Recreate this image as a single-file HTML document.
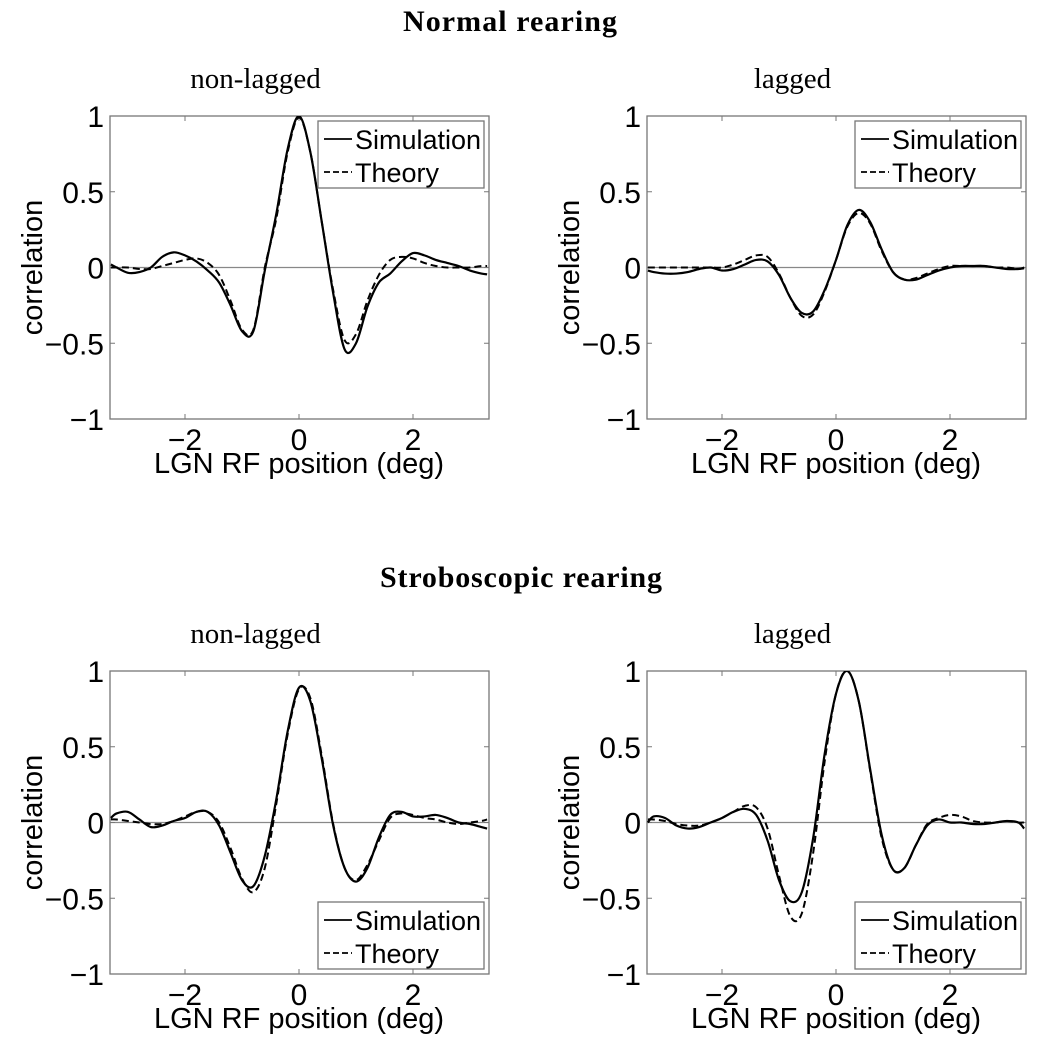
<!DOCTYPE html>
<html><head><meta charset="utf-8"><style>
body{margin:0;background:#fff;}
svg text{font-family:"Liberation Sans",sans-serif;fill:#000;}
.ser{font-family:"Liberation Serif",serif !important;}
</style></head><body>
<svg id="fig" width="1041" height="1050" xmlns="http://www.w3.org/2000/svg">
<text class="ser" x="510" y="31" font-size="30" font-weight="bold" text-anchor="middle" textLength="214">Normal rearing</text>
<text class="ser" x="521" y="587" font-size="30" font-weight="bold" text-anchor="middle" textLength="282">Stroboscopic rearing</text>
</svg>
<script>
const xs=[-3.3,-3.2,-3.0,-2.8,-2.6,-2.4,-2.2,-2.0,-1.8,-1.6,-1.4,-1.2,-1.0,-0.8,-0.6,-0.4,-0.2,0,0.2,0.4,0.6,0.8,1.0,1.2,1.4,1.6,1.8,2.0,2.2,2.4,2.6,2.8,3.0,3.2,3.3];
const xTicks=[-2,0,2];
const yTicks=[-1,-0.5,0,0.5,1];
const yTickLabels=["\u22121","\u22120.5","0","0.5","1"];
const xTickLabels=["\u22122","0","2"];
const normNonSim=[0.02,0.0,-0.035,-0.03,0.0,0.07,0.1,0.08,0.04,-0.02,-0.1,-0.25,-0.42,-0.42,-0.02,0.35,0.78,1.0,0.76,0.3,-0.17,-0.54,-0.5,-0.26,-0.1,-0.04,0.04,0.095,0.08,0.05,0.03,0.01,-0.02,-0.04,-0.045];
const normNonThe=[0.0,0.0,0.0,-0.01,-0.01,0.01,0.03,0.05,0.06,0.03,-0.05,-0.22,-0.41,-0.41,0.0,0.32,0.76,0.99,0.76,0.3,-0.15,-0.48,-0.44,-0.22,-0.05,0.05,0.07,0.06,0.03,0.01,0.0,0.0,0.0,0.01,0.01];
const normLagSim=[-0.02,-0.03,-0.04,-0.04,-0.03,-0.01,0.0,-0.02,-0.01,0.02,0.05,0.04,-0.05,-0.2,-0.3,-0.29,-0.15,0.05,0.28,0.38,0.3,0.12,-0.03,-0.08,-0.08,-0.05,-0.02,0.0,0.01,0.01,0.01,0.0,-0.01,-0.01,-0.005];
const normLagThe=[0.0,0.0,0.0,0.0,0.0,0.0,0.0,0.0,0.02,0.05,0.08,0.07,-0.04,-0.2,-0.32,-0.31,-0.16,0.05,0.27,0.36,0.29,0.11,-0.03,-0.08,-0.07,-0.04,-0.01,0.01,0.01,0.01,0.01,0.0,0.0,-0.01,0.0];
const strNonSim=[0.03,0.06,0.07,0.02,-0.03,-0.02,0.01,0.03,0.07,0.07,-0.02,-0.2,-0.38,-0.42,-0.22,0.15,0.6,0.89,0.8,0.42,-0.02,-0.3,-0.39,-0.3,-0.1,0.05,0.07,0.04,0.04,0.05,0.03,0.0,-0.01,-0.03,-0.04];
const strNonThe=[0.02,0.02,0.01,0.0,-0.01,-0.01,0.01,0.04,0.07,0.07,0.0,-0.17,-0.37,-0.46,-0.3,0.12,0.58,0.88,0.82,0.44,-0.01,-0.3,-0.38,-0.28,-0.12,0.03,0.06,0.05,0.03,0.02,0.0,-0.01,0.0,0.01,0.02];
const strLagSim=[0.0,0.04,0.03,-0.02,-0.04,-0.03,0.0,0.03,0.07,0.09,0.05,-0.12,-0.38,-0.52,-0.46,-0.1,0.45,0.85,1.0,0.8,0.35,-0.08,-0.31,-0.3,-0.15,-0.02,0.02,0.0,0.0,-0.01,-0.01,0.0,0.01,0.0,-0.04];
const strLagThe=[0.02,0.02,0.01,-0.01,-0.02,-0.02,0.0,0.03,0.07,0.11,0.1,-0.04,-0.35,-0.62,-0.6,-0.2,0.4,0.85,1.0,0.8,0.34,-0.1,-0.31,-0.3,-0.15,-0.01,0.03,0.05,0.04,0.01,0.0,0.0,0.01,0.0,0.0];

const NS="http://www.w3.org/2000/svg";
const svg=document.getElementById('fig');
function mk(tag,attrs,parent){const e=document.createElementNS(NS,tag);for(const k in attrs)e.setAttribute(k,attrs[k]);(parent||svg).appendChild(e);return e;}
const panels=[
 {ox:0,oy:0,sub:"non-lagged",sim:normNonSim,the:normNonThe,legTop:true,id:"normal-non-lagged"},
 {ox:537,oy:0,sub:"lagged",sim:normLagSim,the:normLagThe,legTop:true,id:"normal-lagged"},
 {ox:0,oy:555,sub:"non-lagged",sim:strNonSim,the:strNonThe,legTop:false,id:"strobe-non-lagged"},
 {ox:537,oy:555,sub:"lagged",sim:strLagSim,the:strLagThe,legTop:false,id:"strobe-lagged"}];
function pathFrom(pts){let d="M"+pts[0][0]+","+pts[0][1];
 for(let i=0;i<pts.length-1;i++){const p0=pts[Math.max(0,i-1)],p1=pts[i],p2=pts[i+1],p3=pts[Math.min(pts.length-1,i+2)];
  const c1=[p1[0]+(p2[0]-p0[0])/6,p1[1]+(p2[1]-p0[1])/6],c2=[p2[0]-(p3[0]-p1[0])/6,p2[1]-(p3[1]-p1[1])/6];
  d+=" C"+c1[0].toFixed(2)+","+c1[1].toFixed(2)+" "+c2[0].toFixed(2)+","+c2[1].toFixed(2)+" "+p2[0].toFixed(2)+","+p2[1].toFixed(2);}
 return d;}
panels.forEach((p,pi)=>{
 const L=110+p.ox,R=489+p.ox,T=116+p.oy,B=419+p.oy,X0=299+p.ox;
 const sx=v=>X0+v*57, sy=v=>(T+B)/2-v*(B-T)/2;
 const g=mk('g',{});
 
 
 const st=mk('text',{x:(L+R)/2-44,y:88+p.oy,'font-size':29,'text-anchor':'middle',class:'ser'},g);
 st.textContent=p.sub;
 
 
 const cid='clip'+pi;
 const cp=mk('clipPath',{id:cid},g);mk('rect',{x:L,y:T,width:R-L,height:B-T},cp);
 const zl=mk('line',{x1:L,x2:R,y1:sy(0),y2:sy(0),stroke:'#888','stroke-width':1.3},g);
 
 
 const fr=mk('rect',{x:L,y:T,width:R-L,height:B-T,fill:'none',stroke:'#777','stroke-width':1.3},g);
 
 
 xTicks.forEach((t,i)=>{
  mk('line',{x1:sx(t),x2:sx(t),y1:B,y2:B-5,stroke:'#777'},g);
  mk('line',{x1:sx(t),x2:sx(t),y1:T,y2:T+5,stroke:'#777'},g);
  const tx=mk('text',{x:sx(t),y:B+31,'font-size':30,'text-anchor':'middle'},g);tx.textContent=xTickLabels[i];
  
  
 });
 yTicks.forEach((t,i)=>{
  mk('line',{x1:L,x2:L+5,y1:sy(t),y2:sy(t),stroke:'#777'},g);
  mk('line',{x1:R,x2:R-5,y1:sy(t),y2:sy(t),stroke:'#777'},g);
  const tx=mk('text',{x:L-6,y:sy(t)+11,'font-size':30,'text-anchor':'end'},g);tx.textContent=yTickLabels[i];
  
  
 });
 const xl=mk('text',{x:X0,y:B+54,'font-size':29,'text-anchor':'middle'},g);xl.textContent="LGN RF position (deg)";
 
 
 const yl=mk('text',{x:0,y:0,'font-size':29,'text-anchor':'middle',transform:'translate('+(42+p.ox)+','+sy(0)+') rotate(-90)'},g);yl.textContent="correlation";
 
 
 const th=mk('path',{d:pathFrom(xs.map((x,i)=>[sx(x),sy(p.the[i])])),fill:'none',stroke:'#000','stroke-width':2,'stroke-dasharray':'7,4','clip-path':'url(#'+cid+')'},g);
 
 
 const sm=mk('path',{d:pathFrom(xs.map((x,i)=>[sx(x),sy(p.sim[i])])),fill:'none',stroke:'#000','stroke-width':2.2,'clip-path':'url(#'+cid+')'},g);
 
 
 const lt=p.legTop?121+p.oy:902-555+p.oy;
 const lg=mk('g',{},g);
 
 
 mk('rect',{x:318+p.ox,y:lt,width:166,height:67,fill:'#fff',stroke:'#777','stroke-width':1.3},lg);
 mk('line',{x1:324+p.ox,x2:352+p.ox,y1:lt+18,y2:lt+18,stroke:'#000','stroke-width':1.8},lg);
 mk('line',{x1:324+p.ox,x2:352+p.ox,y1:lt+51,y2:lt+51,stroke:'#000','stroke-width':1.8,'stroke-dasharray':'6,3'},lg);
 const l1=mk('text',{x:355+p.ox,y:lt+28,'font-size':27},lg);l1.textContent="Simulation";
 
 
 const l2=mk('text',{x:355+p.ox,y:lt+61,'font-size':27},lg);l2.textContent="Theory";
 
 
});
</script>
</body></html>
